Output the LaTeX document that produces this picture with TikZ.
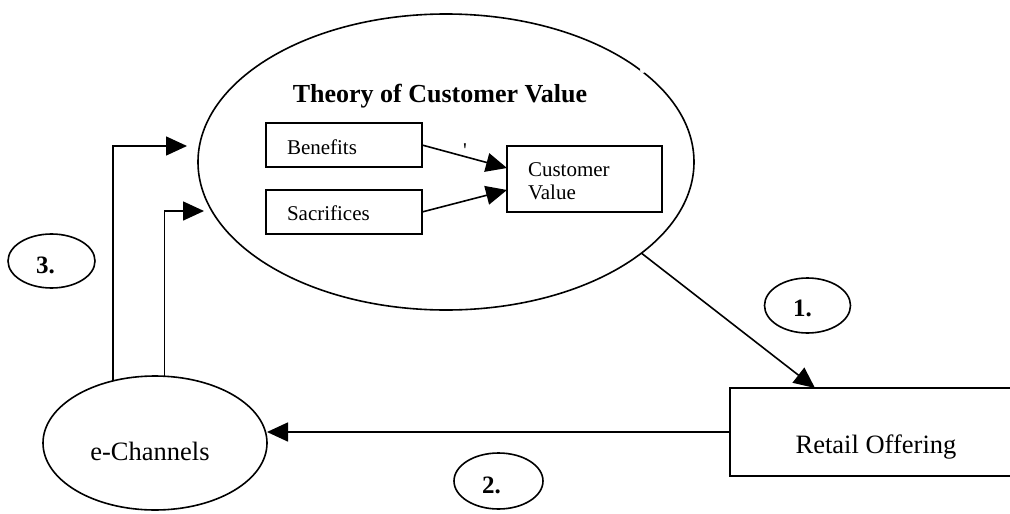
\documentclass[tikz,border=0pt]{standalone}
\usepackage{fontspec}
\setmainfont{Liberation Serif}
\usetikzlibrary{shapes.geometric,arrows.meta,calc}
\begin{document}
\begin{tikzpicture}[x=1pt,y=-1pt,
  every node/.style={inner sep=0pt,outer sep=0pt},
  boxnode/.style={draw,line width=1.8pt,rectangle},
  bubble/.style={draw,line width=1.6pt,ellipse},
  arr/.style={line width=1.6pt,-{Triangle[length=21pt,width=19pt]}},
  boxtext/.style={font=\fontsize{21}{24}\selectfont,anchor=base west},
  bigtext/.style={font=\fontsize{26.5}{30}\selectfont,anchor=base},
  numtext/.style={font=\bfseries\fontsize{25}{28}\selectfont,anchor=base west},
]
\useasboundingbox (0,0) rectangle (1010,514);

% main model: theory of customer value
\node[bubble,minimum width=496pt,minimum height=296pt] (tcv) at (446,162) {};
\fill[white] (643,70) circle (3);
\node[font=\bfseries\fontsize{26}{30}\selectfont,anchor=base] (title) at (440,102) {Theory of Customer Value};

\node[boxnode,minimum width=156pt,minimum height=44pt] (ben) at (344,145) {};
\node[boxtext] (bentxt) at (287,154) {Benefits};
\node[boxnode,minimum width=156pt,minimum height=44pt] (sac) at (344,212) {};
\node[boxtext] (sactxt) at (287,220) {Sacrifices};
\node[boxnode,minimum width=155pt,minimum height=66pt] (cv) at (584.5,179) {};
\node[boxtext] (cvtxt1) at (528,176) {Customer};
\node[boxtext] (cvtxt2) at (528,199) {Value};
\node[font=\fontsize{21}{24}\selectfont,anchor=base] (tick) at (465,157) {\textquotesingle};

\draw[arr] (ben.east) -- ($(cv.west)+(0,-11)$);
\draw[arr] (sac.east) -- ($(cv.west)+(0,11)$);

% retail offering and e-channels
\node[boxnode,minimum width=292pt,minimum height=88pt] (retail) at (876,432) {};
\node[bigtext] (rettxt) at (876,453) {Retail Offering};
\node[bubble,minimum width=224pt,minimum height=134pt] (ech) at (155,443) {};
\node[bigtext] (echtxt) at (150,460) {e-Channels};

% numbered step labels
\node[bubble,minimum width=86pt,minimum height=55pt] (n1) at (807.5,305.5) {};
\node[numtext] (n1txt) at (793,316) {1.};
\node[bubble,minimum width=89pt,minimum height=56pt] (n2) at (498.5,481) {};
\node[numtext] (n2txt) at (482,493) {2.};
\node[bubble,minimum width=87pt,minimum height=54pt] (n3) at (51.5,261) {};
\node[numtext] (n3txt) at (36,273) {3.};

% flows
\coordinate (in3a) at (187,146);
\coordinate (in3b) at (204,211);
\draw[arr] (tcv.-25.3) -- ($(retail.north west)!0.291!(retail.north east)$);
\draw[arr] (retail.west) -- (retail.west -| ech.east);
\draw[arr] (ech.124.7) |- (in3a);
\draw[arr] (ech.82.35) |- (in3b);
\end{tikzpicture}
\end{document}
